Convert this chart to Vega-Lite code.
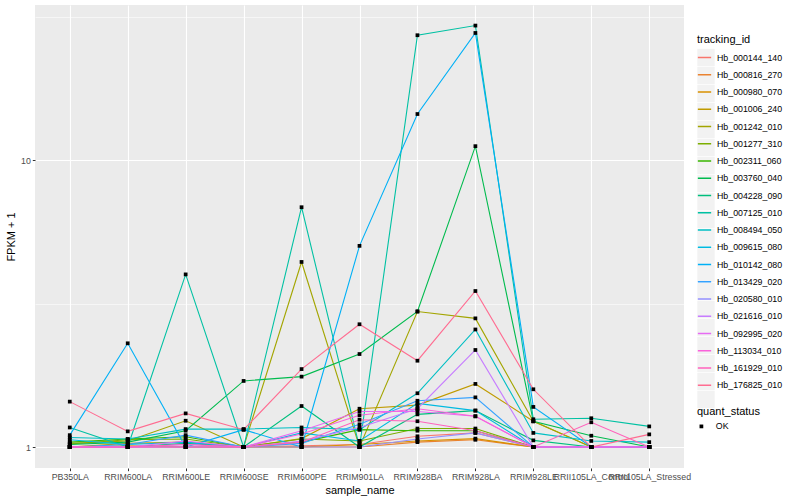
{
  "$schema": "https://vega.github.io/schema/vega-lite/v6.json",
  "autosize": {"type": "none"},
  "padding": {"left": 35, "top": 5, "right": 116, "bottom": 32},
  "width": 649,
  "height": 463,
  "background": "white",
  "config": {
    "view": {"fill": "#EBEBEB", "stroke": null},
    "font": "Liberation Sans",
    "axis": {
      "domain": false,
      "gridColor": "white",
      "tickColor": "#333333",
      "tickSize": 2.7,
      "labelColor": "#4D4D4D",
      "labelFont": "Liberation Sans",
      "labelFontSize": 8.8,
      "titleFont": "Liberation Sans",
      "titleFontSize": 11,
      "titleFontWeight": "normal",
      "titleColor": "black"
    },
    "legend": {
      "titleFont": "Liberation Sans",
      "titleFontSize": 11,
      "titleFontWeight": "normal",
      "titleColor": "black",
      "labelFont": "Liberation Sans",
      "labelFontSize": 8.8,
      "labelColor": "black",
      "padding": 0
    }
  },
  "data": {"values": [
    {"tracking_id":"Hb_000144_140","sample_name":"PB350LA","fpkm":1.0,"quant_status":"OK"},
    {"tracking_id":"Hb_000144_140","sample_name":"RRIM600LA","fpkm":1.0,"quant_status":"OK"},
    {"tracking_id":"Hb_000144_140","sample_name":"RRIM600LE","fpkm":1.0,"quant_status":"OK"},
    {"tracking_id":"Hb_000144_140","sample_name":"RRIM600SE","fpkm":1.0,"quant_status":"OK"},
    {"tracking_id":"Hb_000144_140","sample_name":"RRIM600PE","fpkm":1.01,"quant_status":"OK"},
    {"tracking_id":"Hb_000144_140","sample_name":"RRIM901LA","fpkm":1.02,"quant_status":"OK"},
    {"tracking_id":"Hb_000144_140","sample_name":"RRIM928BA","fpkm":1.09,"quant_status":"OK"},
    {"tracking_id":"Hb_000144_140","sample_name":"RRIM928LA","fpkm":1.12,"quant_status":"OK"},
    {"tracking_id":"Hb_000144_140","sample_name":"RRIM928LE","fpkm":1.0,"quant_status":"OK"},
    {"tracking_id":"Hb_000144_140","sample_name":"RRII105LA_Control","fpkm":1.0,"quant_status":"OK"},
    {"tracking_id":"Hb_000144_140","sample_name":"RRII105LA_Stressed","fpkm":1.0,"quant_status":"OK"},
    {"tracking_id":"Hb_000816_270","sample_name":"PB350LA","fpkm":1.0,"quant_status":"OK"},
    {"tracking_id":"Hb_000816_270","sample_name":"RRIM600LA","fpkm":1.0,"quant_status":"OK"},
    {"tracking_id":"Hb_000816_270","sample_name":"RRIM600LE","fpkm":1.0,"quant_status":"OK"},
    {"tracking_id":"Hb_000816_270","sample_name":"RRIM600SE","fpkm":1.0,"quant_status":"OK"},
    {"tracking_id":"Hb_000816_270","sample_name":"RRIM600PE","fpkm":1.0,"quant_status":"OK"},
    {"tracking_id":"Hb_000816_270","sample_name":"RRIM901LA","fpkm":1.0,"quant_status":"OK"},
    {"tracking_id":"Hb_000816_270","sample_name":"RRIM928BA","fpkm":1.04,"quant_status":"OK"},
    {"tracking_id":"Hb_000816_270","sample_name":"RRIM928LA","fpkm":1.06,"quant_status":"OK"},
    {"tracking_id":"Hb_000816_270","sample_name":"RRIM928LE","fpkm":1.0,"quant_status":"OK"},
    {"tracking_id":"Hb_000816_270","sample_name":"RRII105LA_Control","fpkm":1.0,"quant_status":"OK"},
    {"tracking_id":"Hb_000816_270","sample_name":"RRII105LA_Stressed","fpkm":1.0,"quant_status":"OK"},
    {"tracking_id":"Hb_000980_070","sample_name":"PB350LA","fpkm":1.0,"quant_status":"OK"},
    {"tracking_id":"Hb_000980_070","sample_name":"RRIM600LA","fpkm":1.01,"quant_status":"OK"},
    {"tracking_id":"Hb_000980_070","sample_name":"RRIM600LE","fpkm":1.0,"quant_status":"OK"},
    {"tracking_id":"Hb_000980_070","sample_name":"RRIM600SE","fpkm":1.0,"quant_status":"OK"},
    {"tracking_id":"Hb_000980_070","sample_name":"RRIM600PE","fpkm":1.0,"quant_status":"OK"},
    {"tracking_id":"Hb_000980_070","sample_name":"RRIM901LA","fpkm":1.02,"quant_status":"OK"},
    {"tracking_id":"Hb_000980_070","sample_name":"RRIM928BA","fpkm":1.05,"quant_status":"OK"},
    {"tracking_id":"Hb_000980_070","sample_name":"RRIM928LA","fpkm":1.07,"quant_status":"OK"},
    {"tracking_id":"Hb_000980_070","sample_name":"RRIM928LE","fpkm":1.0,"quant_status":"OK"},
    {"tracking_id":"Hb_000980_070","sample_name":"RRII105LA_Control","fpkm":1.0,"quant_status":"OK"},
    {"tracking_id":"Hb_000980_070","sample_name":"RRII105LA_Stressed","fpkm":1.0,"quant_status":"OK"},
    {"tracking_id":"Hb_001006_240","sample_name":"PB350LA","fpkm":1.0,"quant_status":"OK"},
    {"tracking_id":"Hb_001006_240","sample_name":"RRIM600LA","fpkm":1.03,"quant_status":"OK"},
    {"tracking_id":"Hb_001006_240","sample_name":"RRIM600LE","fpkm":1.04,"quant_status":"OK"},
    {"tracking_id":"Hb_001006_240","sample_name":"RRIM600SE","fpkm":1.0,"quant_status":"OK"},
    {"tracking_id":"Hb_001006_240","sample_name":"RRIM600PE","fpkm":1.07,"quant_status":"OK"},
    {"tracking_id":"Hb_001006_240","sample_name":"RRIM901LA","fpkm":1.36,"quant_status":"OK"},
    {"tracking_id":"Hb_001006_240","sample_name":"RRIM928BA","fpkm":1.4,"quant_status":"OK"},
    {"tracking_id":"Hb_001006_240","sample_name":"RRIM928LA","fpkm":1.66,"quant_status":"OK"},
    {"tracking_id":"Hb_001006_240","sample_name":"RRIM928LE","fpkm":1.23,"quant_status":"OK"},
    {"tracking_id":"Hb_001006_240","sample_name":"RRII105LA_Control","fpkm":1.0,"quant_status":"OK"},
    {"tracking_id":"Hb_001006_240","sample_name":"RRII105LA_Stressed","fpkm":1.0,"quant_status":"OK"},
    {"tracking_id":"Hb_001242_010","sample_name":"PB350LA","fpkm":1.03,"quant_status":"OK"},
    {"tracking_id":"Hb_001242_010","sample_name":"RRIM600LA","fpkm":1.05,"quant_status":"OK"},
    {"tracking_id":"Hb_001242_010","sample_name":"RRIM600LE","fpkm":1.235,"quant_status":"OK"},
    {"tracking_id":"Hb_001242_010","sample_name":"RRIM600SE","fpkm":1.0,"quant_status":"OK"},
    {"tracking_id":"Hb_001242_010","sample_name":"RRIM600PE","fpkm":4.42,"quant_status":"OK"},
    {"tracking_id":"Hb_001242_010","sample_name":"RRIM901LA","fpkm":1.0,"quant_status":"OK"},
    {"tracking_id":"Hb_001242_010","sample_name":"RRIM928BA","fpkm":2.97,"quant_status":"OK"},
    {"tracking_id":"Hb_001242_010","sample_name":"RRIM928LA","fpkm":2.81,"quant_status":"OK"},
    {"tracking_id":"Hb_001242_010","sample_name":"RRIM928LE","fpkm":1.23,"quant_status":"OK"},
    {"tracking_id":"Hb_001242_010","sample_name":"RRII105LA_Control","fpkm":1.0,"quant_status":"OK"},
    {"tracking_id":"Hb_001242_010","sample_name":"RRII105LA_Stressed","fpkm":1.0,"quant_status":"OK"},
    {"tracking_id":"Hb_001277_310","sample_name":"PB350LA","fpkm":1.025,"quant_status":"OK"},
    {"tracking_id":"Hb_001277_310","sample_name":"RRIM600LA","fpkm":1.06,"quant_status":"OK"},
    {"tracking_id":"Hb_001277_310","sample_name":"RRIM600LE","fpkm":1.066,"quant_status":"OK"},
    {"tracking_id":"Hb_001277_310","sample_name":"RRIM600SE","fpkm":1.0,"quant_status":"OK"},
    {"tracking_id":"Hb_001277_310","sample_name":"RRIM600PE","fpkm":1.066,"quant_status":"OK"},
    {"tracking_id":"Hb_001277_310","sample_name":"RRIM901LA","fpkm":1.05,"quant_status":"OK"},
    {"tracking_id":"Hb_001277_310","sample_name":"RRIM928BA","fpkm":1.16,"quant_status":"OK"},
    {"tracking_id":"Hb_001277_310","sample_name":"RRIM928LA","fpkm":1.16,"quant_status":"OK"},
    {"tracking_id":"Hb_001277_310","sample_name":"RRIM928LE","fpkm":1.0,"quant_status":"OK"},
    {"tracking_id":"Hb_001277_310","sample_name":"RRII105LA_Control","fpkm":1.0,"quant_status":"OK"},
    {"tracking_id":"Hb_001277_310","sample_name":"RRII105LA_Stressed","fpkm":1.0,"quant_status":"OK"},
    {"tracking_id":"Hb_002311_060","sample_name":"PB350LA","fpkm":1.04,"quant_status":"OK"},
    {"tracking_id":"Hb_002311_060","sample_name":"RRIM600LA","fpkm":1.066,"quant_status":"OK"},
    {"tracking_id":"Hb_002311_060","sample_name":"RRIM600LE","fpkm":1.086,"quant_status":"OK"},
    {"tracking_id":"Hb_002311_060","sample_name":"RRIM600SE","fpkm":1.0,"quant_status":"OK"},
    {"tracking_id":"Hb_002311_060","sample_name":"RRIM600PE","fpkm":1.04,"quant_status":"OK"},
    {"tracking_id":"Hb_002311_060","sample_name":"RRIM901LA","fpkm":1.15,"quant_status":"OK"},
    {"tracking_id":"Hb_002311_060","sample_name":"RRIM928BA","fpkm":1.14,"quant_status":"OK"},
    {"tracking_id":"Hb_002311_060","sample_name":"RRIM928LA","fpkm":1.14,"quant_status":"OK"},
    {"tracking_id":"Hb_002311_060","sample_name":"RRIM928LE","fpkm":1.0,"quant_status":"OK"},
    {"tracking_id":"Hb_002311_060","sample_name":"RRII105LA_Control","fpkm":1.0,"quant_status":"OK"},
    {"tracking_id":"Hb_002311_060","sample_name":"RRII105LA_Stressed","fpkm":1.0,"quant_status":"OK"},
    {"tracking_id":"Hb_003760_040","sample_name":"PB350LA","fpkm":1.02,"quant_status":"OK"},
    {"tracking_id":"Hb_003760_040","sample_name":"RRIM600LA","fpkm":1.04,"quant_status":"OK"},
    {"tracking_id":"Hb_003760_040","sample_name":"RRIM600LE","fpkm":1.14,"quant_status":"OK"},
    {"tracking_id":"Hb_003760_040","sample_name":"RRIM600SE","fpkm":1.7,"quant_status":"OK"},
    {"tracking_id":"Hb_003760_040","sample_name":"RRIM600PE","fpkm":1.76,"quant_status":"OK"},
    {"tracking_id":"Hb_003760_040","sample_name":"RRIM901LA","fpkm":2.11,"quant_status":"OK"},
    {"tracking_id":"Hb_003760_040","sample_name":"RRIM928BA","fpkm":2.97,"quant_status":"OK"},
    {"tracking_id":"Hb_003760_040","sample_name":"RRIM928LA","fpkm":11.2,"quant_status":"OK"},
    {"tracking_id":"Hb_003760_040","sample_name":"RRIM928LE","fpkm":1.23,"quant_status":"OK"},
    {"tracking_id":"Hb_003760_040","sample_name":"RRII105LA_Control","fpkm":1.095,"quant_status":"OK"},
    {"tracking_id":"Hb_003760_040","sample_name":"RRII105LA_Stressed","fpkm":1.0,"quant_status":"OK"},
    {"tracking_id":"Hb_004228_090","sample_name":"PB350LA","fpkm":1.0,"quant_status":"OK"},
    {"tracking_id":"Hb_004228_090","sample_name":"RRIM600LA","fpkm":1.0,"quant_status":"OK"},
    {"tracking_id":"Hb_004228_090","sample_name":"RRIM600LE","fpkm":1.03,"quant_status":"OK"},
    {"tracking_id":"Hb_004228_090","sample_name":"RRIM600SE","fpkm":1.0,"quant_status":"OK"},
    {"tracking_id":"Hb_004228_090","sample_name":"RRIM600PE","fpkm":1.39,"quant_status":"OK"},
    {"tracking_id":"Hb_004228_090","sample_name":"RRIM901LA","fpkm":1.0,"quant_status":"OK"},
    {"tracking_id":"Hb_004228_090","sample_name":"RRIM928BA","fpkm":1.3,"quant_status":"OK"},
    {"tracking_id":"Hb_004228_090","sample_name":"RRIM928LA","fpkm":1.34,"quant_status":"OK"},
    {"tracking_id":"Hb_004228_090","sample_name":"RRIM928LE","fpkm":1.055,"quant_status":"OK"},
    {"tracking_id":"Hb_004228_090","sample_name":"RRII105LA_Control","fpkm":1.0,"quant_status":"OK"},
    {"tracking_id":"Hb_004228_090","sample_name":"RRII105LA_Stressed","fpkm":1.0,"quant_status":"OK"},
    {"tracking_id":"Hb_007125_010","sample_name":"PB350LA","fpkm":1.17,"quant_status":"OK"},
    {"tracking_id":"Hb_007125_010","sample_name":"RRIM600LA","fpkm":1.0,"quant_status":"OK"},
    {"tracking_id":"Hb_007125_010","sample_name":"RRIM600LE","fpkm":4.0,"quant_status":"OK"},
    {"tracking_id":"Hb_007125_010","sample_name":"RRIM600SE","fpkm":1.0,"quant_status":"OK"},
    {"tracking_id":"Hb_007125_010","sample_name":"RRIM600PE","fpkm":6.86,"quant_status":"OK"},
    {"tracking_id":"Hb_007125_010","sample_name":"RRIM901LA","fpkm":1.0,"quant_status":"OK"},
    {"tracking_id":"Hb_007125_010","sample_name":"RRIM928BA","fpkm":27.3,"quant_status":"OK"},
    {"tracking_id":"Hb_007125_010","sample_name":"RRIM928LA","fpkm":29.5,"quant_status":"OK"},
    {"tracking_id":"Hb_007125_010","sample_name":"RRIM928LE","fpkm":1.25,"quant_status":"OK"},
    {"tracking_id":"Hb_007125_010","sample_name":"RRII105LA_Control","fpkm":1.26,"quant_status":"OK"},
    {"tracking_id":"Hb_007125_010","sample_name":"RRII105LA_Stressed","fpkm":1.18,"quant_status":"OK"},
    {"tracking_id":"Hb_008494_050","sample_name":"PB350LA","fpkm":1.08,"quant_status":"OK"},
    {"tracking_id":"Hb_008494_050","sample_name":"RRIM600LA","fpkm":1.066,"quant_status":"OK"},
    {"tracking_id":"Hb_008494_050","sample_name":"RRIM600LE","fpkm":1.155,"quant_status":"OK"},
    {"tracking_id":"Hb_008494_050","sample_name":"RRIM600SE","fpkm":1.155,"quant_status":"OK"},
    {"tracking_id":"Hb_008494_050","sample_name":"RRIM600PE","fpkm":1.17,"quant_status":"OK"},
    {"tracking_id":"Hb_008494_050","sample_name":"RRIM901LA","fpkm":1.15,"quant_status":"OK"},
    {"tracking_id":"Hb_008494_050","sample_name":"RRIM928BA","fpkm":1.54,"quant_status":"OK"},
    {"tracking_id":"Hb_008494_050","sample_name":"RRIM928LA","fpkm":2.57,"quant_status":"OK"},
    {"tracking_id":"Hb_008494_050","sample_name":"RRIM928LE","fpkm":1.12,"quant_status":"OK"},
    {"tracking_id":"Hb_008494_050","sample_name":"RRII105LA_Control","fpkm":1.05,"quant_status":"OK"},
    {"tracking_id":"Hb_008494_050","sample_name":"RRII105LA_Stressed","fpkm":1.04,"quant_status":"OK"},
    {"tracking_id":"Hb_009615_080","sample_name":"PB350LA","fpkm":1.06,"quant_status":"OK"},
    {"tracking_id":"Hb_009615_080","sample_name":"RRIM600LA","fpkm":1.02,"quant_status":"OK"},
    {"tracking_id":"Hb_009615_080","sample_name":"RRIM600LE","fpkm":1.04,"quant_status":"OK"},
    {"tracking_id":"Hb_009615_080","sample_name":"RRIM600SE","fpkm":1.0,"quant_status":"OK"},
    {"tracking_id":"Hb_009615_080","sample_name":"RRIM600PE","fpkm":1.12,"quant_status":"OK"},
    {"tracking_id":"Hb_009615_080","sample_name":"RRIM901LA","fpkm":1.05,"quant_status":"OK"},
    {"tracking_id":"Hb_009615_080","sample_name":"RRIM928BA","fpkm":1.42,"quant_status":"OK"},
    {"tracking_id":"Hb_009615_080","sample_name":"RRIM928LA","fpkm":1.34,"quant_status":"OK"},
    {"tracking_id":"Hb_009615_080","sample_name":"RRIM928LE","fpkm":1.0,"quant_status":"OK"},
    {"tracking_id":"Hb_009615_080","sample_name":"RRII105LA_Control","fpkm":1.0,"quant_status":"OK"},
    {"tracking_id":"Hb_009615_080","sample_name":"RRII105LA_Stressed","fpkm":1.0,"quant_status":"OK"},
    {"tracking_id":"Hb_010142_080","sample_name":"PB350LA","fpkm":1.1,"quant_status":"OK"},
    {"tracking_id":"Hb_010142_080","sample_name":"RRIM600LA","fpkm":2.3,"quant_status":"OK"},
    {"tracking_id":"Hb_010142_080","sample_name":"RRIM600LE","fpkm":1.0,"quant_status":"OK"},
    {"tracking_id":"Hb_010142_080","sample_name":"RRIM600SE","fpkm":1.15,"quant_status":"OK"},
    {"tracking_id":"Hb_010142_080","sample_name":"RRIM600PE","fpkm":1.0,"quant_status":"OK"},
    {"tracking_id":"Hb_010142_080","sample_name":"RRIM901LA","fpkm":5.03,"quant_status":"OK"},
    {"tracking_id":"Hb_010142_080","sample_name":"RRIM928BA","fpkm":14.5,"quant_status":"OK"},
    {"tracking_id":"Hb_010142_080","sample_name":"RRIM928LA","fpkm":27.8,"quant_status":"OK"},
    {"tracking_id":"Hb_010142_080","sample_name":"RRIM928LE","fpkm":1.38,"quant_status":"OK"},
    {"tracking_id":"Hb_010142_080","sample_name":"RRII105LA_Control","fpkm":1.0,"quant_status":"OK"},
    {"tracking_id":"Hb_010142_080","sample_name":"RRII105LA_Stressed","fpkm":1.0,"quant_status":"OK"},
    {"tracking_id":"Hb_013429_020","sample_name":"PB350LA","fpkm":1.0,"quant_status":"OK"},
    {"tracking_id":"Hb_013429_020","sample_name":"RRIM600LA","fpkm":1.02,"quant_status":"OK"},
    {"tracking_id":"Hb_013429_020","sample_name":"RRIM600LE","fpkm":1.1,"quant_status":"OK"},
    {"tracking_id":"Hb_013429_020","sample_name":"RRIM600SE","fpkm":1.0,"quant_status":"OK"},
    {"tracking_id":"Hb_013429_020","sample_name":"RRIM600PE","fpkm":1.03,"quant_status":"OK"},
    {"tracking_id":"Hb_013429_020","sample_name":"RRIM901LA","fpkm":1.2,"quant_status":"OK"},
    {"tracking_id":"Hb_013429_020","sample_name":"RRIM928BA","fpkm":1.45,"quant_status":"OK"},
    {"tracking_id":"Hb_013429_020","sample_name":"RRIM928LA","fpkm":1.49,"quant_status":"OK"},
    {"tracking_id":"Hb_013429_020","sample_name":"RRIM928LE","fpkm":1.0,"quant_status":"OK"},
    {"tracking_id":"Hb_013429_020","sample_name":"RRII105LA_Control","fpkm":1.0,"quant_status":"OK"},
    {"tracking_id":"Hb_013429_020","sample_name":"RRII105LA_Stressed","fpkm":1.0,"quant_status":"OK"},
    {"tracking_id":"Hb_020580_010","sample_name":"PB350LA","fpkm":1.0,"quant_status":"OK"},
    {"tracking_id":"Hb_020580_010","sample_name":"RRIM600LA","fpkm":1.0,"quant_status":"OK"},
    {"tracking_id":"Hb_020580_010","sample_name":"RRIM600LE","fpkm":1.0,"quant_status":"OK"},
    {"tracking_id":"Hb_020580_010","sample_name":"RRIM600SE","fpkm":1.0,"quant_status":"OK"},
    {"tracking_id":"Hb_020580_010","sample_name":"RRIM600PE","fpkm":1.0,"quant_status":"OK"},
    {"tracking_id":"Hb_020580_010","sample_name":"RRIM901LA","fpkm":1.0,"quant_status":"OK"},
    {"tracking_id":"Hb_020580_010","sample_name":"RRIM928BA","fpkm":1.066,"quant_status":"OK"},
    {"tracking_id":"Hb_020580_010","sample_name":"RRIM928LA","fpkm":1.12,"quant_status":"OK"},
    {"tracking_id":"Hb_020580_010","sample_name":"RRIM928LE","fpkm":1.0,"quant_status":"OK"},
    {"tracking_id":"Hb_020580_010","sample_name":"RRII105LA_Control","fpkm":1.0,"quant_status":"OK"},
    {"tracking_id":"Hb_020580_010","sample_name":"RRII105LA_Stressed","fpkm":1.0,"quant_status":"OK"},
    {"tracking_id":"Hb_021616_010","sample_name":"PB350LA","fpkm":1.0,"quant_status":"OK"},
    {"tracking_id":"Hb_021616_010","sample_name":"RRIM600LA","fpkm":1.0,"quant_status":"OK"},
    {"tracking_id":"Hb_021616_010","sample_name":"RRIM600LE","fpkm":1.02,"quant_status":"OK"},
    {"tracking_id":"Hb_021616_010","sample_name":"RRIM600SE","fpkm":1.0,"quant_status":"OK"},
    {"tracking_id":"Hb_021616_010","sample_name":"RRIM600PE","fpkm":1.05,"quant_status":"OK"},
    {"tracking_id":"Hb_021616_010","sample_name":"RRIM901LA","fpkm":1.17,"quant_status":"OK"},
    {"tracking_id":"Hb_021616_010","sample_name":"RRIM928BA","fpkm":1.36,"quant_status":"OK"},
    {"tracking_id":"Hb_021616_010","sample_name":"RRIM928LA","fpkm":2.18,"quant_status":"OK"},
    {"tracking_id":"Hb_021616_010","sample_name":"RRIM928LE","fpkm":1.0,"quant_status":"OK"},
    {"tracking_id":"Hb_021616_010","sample_name":"RRII105LA_Control","fpkm":1.0,"quant_status":"OK"},
    {"tracking_id":"Hb_021616_010","sample_name":"RRII105LA_Stressed","fpkm":1.0,"quant_status":"OK"},
    {"tracking_id":"Hb_092995_020","sample_name":"PB350LA","fpkm":1.0,"quant_status":"OK"},
    {"tracking_id":"Hb_092995_020","sample_name":"RRIM600LA","fpkm":1.0,"quant_status":"OK"},
    {"tracking_id":"Hb_092995_020","sample_name":"RRIM600LE","fpkm":1.05,"quant_status":"OK"},
    {"tracking_id":"Hb_092995_020","sample_name":"RRIM600SE","fpkm":1.0,"quant_status":"OK"},
    {"tracking_id":"Hb_092995_020","sample_name":"RRIM600PE","fpkm":1.14,"quant_status":"OK"},
    {"tracking_id":"Hb_092995_020","sample_name":"RRIM901LA","fpkm":1.33,"quant_status":"OK"},
    {"tracking_id":"Hb_092995_020","sample_name":"RRIM928BA","fpkm":1.33,"quant_status":"OK"},
    {"tracking_id":"Hb_092995_020","sample_name":"RRIM928LA","fpkm":1.28,"quant_status":"OK"},
    {"tracking_id":"Hb_092995_020","sample_name":"RRIM928LE","fpkm":1.0,"quant_status":"OK"},
    {"tracking_id":"Hb_092995_020","sample_name":"RRII105LA_Control","fpkm":1.0,"quant_status":"OK"},
    {"tracking_id":"Hb_092995_020","sample_name":"RRII105LA_Stressed","fpkm":1.0,"quant_status":"OK"},
    {"tracking_id":"Hb_113034_010","sample_name":"PB350LA","fpkm":1.0,"quant_status":"OK"},
    {"tracking_id":"Hb_113034_010","sample_name":"RRIM600LA","fpkm":1.0,"quant_status":"OK"},
    {"tracking_id":"Hb_113034_010","sample_name":"RRIM600LE","fpkm":1.0,"quant_status":"OK"},
    {"tracking_id":"Hb_113034_010","sample_name":"RRIM600SE","fpkm":1.0,"quant_status":"OK"},
    {"tracking_id":"Hb_113034_010","sample_name":"RRIM600PE","fpkm":1.11,"quant_status":"OK"},
    {"tracking_id":"Hb_113034_010","sample_name":"RRIM901LA","fpkm":1.29,"quant_status":"OK"},
    {"tracking_id":"Hb_113034_010","sample_name":"RRIM928BA","fpkm":1.36,"quant_status":"OK"},
    {"tracking_id":"Hb_113034_010","sample_name":"RRIM928LA","fpkm":1.28,"quant_status":"OK"},
    {"tracking_id":"Hb_113034_010","sample_name":"RRIM928LE","fpkm":1.0,"quant_status":"OK"},
    {"tracking_id":"Hb_113034_010","sample_name":"RRII105LA_Control","fpkm":1.0,"quant_status":"OK"},
    {"tracking_id":"Hb_113034_010","sample_name":"RRII105LA_Stressed","fpkm":1.0,"quant_status":"OK"},
    {"tracking_id":"Hb_161929_010","sample_name":"PB350LA","fpkm":1.0,"quant_status":"OK"},
    {"tracking_id":"Hb_161929_010","sample_name":"RRIM600LA","fpkm":1.0,"quant_status":"OK"},
    {"tracking_id":"Hb_161929_010","sample_name":"RRIM600LE","fpkm":1.02,"quant_status":"OK"},
    {"tracking_id":"Hb_161929_010","sample_name":"RRIM600SE","fpkm":1.0,"quant_status":"OK"},
    {"tracking_id":"Hb_161929_010","sample_name":"RRIM600PE","fpkm":1.04,"quant_status":"OK"},
    {"tracking_id":"Hb_161929_010","sample_name":"RRIM901LA","fpkm":1.245,"quant_status":"OK"},
    {"tracking_id":"Hb_161929_010","sample_name":"RRIM928BA","fpkm":1.23,"quant_status":"OK"},
    {"tracking_id":"Hb_161929_010","sample_name":"RRIM928LA","fpkm":1.14,"quant_status":"OK"},
    {"tracking_id":"Hb_161929_010","sample_name":"RRIM928LE","fpkm":1.0,"quant_status":"OK"},
    {"tracking_id":"Hb_161929_010","sample_name":"RRII105LA_Control","fpkm":1.22,"quant_status":"OK"},
    {"tracking_id":"Hb_161929_010","sample_name":"RRII105LA_Stressed","fpkm":1.0,"quant_status":"OK"},
    {"tracking_id":"Hb_176825_010","sample_name":"PB350LA","fpkm":1.44,"quant_status":"OK"},
    {"tracking_id":"Hb_176825_010","sample_name":"RRIM600LA","fpkm":1.134,"quant_status":"OK"},
    {"tracking_id":"Hb_176825_010","sample_name":"RRIM600LE","fpkm":1.31,"quant_status":"OK"},
    {"tracking_id":"Hb_176825_010","sample_name":"RRIM600SE","fpkm":1.149,"quant_status":"OK"},
    {"tracking_id":"Hb_176825_010","sample_name":"RRIM600PE","fpkm":1.87,"quant_status":"OK"},
    {"tracking_id":"Hb_176825_010","sample_name":"RRIM901LA","fpkm":2.68,"quant_status":"OK"},
    {"tracking_id":"Hb_176825_010","sample_name":"RRIM928BA","fpkm":2.0,"quant_status":"OK"},
    {"tracking_id":"Hb_176825_010","sample_name":"RRIM928LA","fpkm":3.5,"quant_status":"OK"},
    {"tracking_id":"Hb_176825_010","sample_name":"RRIM928LE","fpkm":1.59,"quant_status":"OK"},
    {"tracking_id":"Hb_176825_010","sample_name":"RRII105LA_Control","fpkm":1.0,"quant_status":"OK"},
    {"tracking_id":"Hb_176825_010","sample_name":"RRII105LA_Stressed","fpkm":1.107,"quant_status":"OK"}
  ]},
  "encoding": {
    "x": {
      "field": "sample_name",
      "type": "nominal",
      "sort": ["PB350LA","RRIM600LA","RRIM600LE","RRIM600SE","RRIM600PE","RRIM901LA","RRIM928BA","RRIM928LA","RRIM928LE","RRII105LA_Control","RRII105LA_Stressed"],
      "scale": {"type": "point", "padding": 0.6},
      "axis": {
        "title": "sample_name",
        "grid": true,
        "gridWidth": 1.1,
        "labelAngle": 0,
        "labelOverlap": false,
        "labelLimit": 300,
        "labelBound": false,
        "labelPadding": 2,
        "titlePadding": 3
      }
    },
    "y": {
      "field": "fpkm",
      "type": "quantitative",
      "scale": {"type": "log", "domain": [0.845, 34.8], "nice": false, "zero": false},
      "axis": {
        "title": "FPKM + 1",
        "values": [1, 3.1623, 10, 31.623],
        "labelExpr": "datum.value == 1 ? '1' : (datum.value == 10 ? '10' : '')",
        "gridWidth": {"condition": {"test": "datum.value == 1 || datum.value == 10", "value": 1.1}, "value": 0.55},
        "tickOpacity": {"condition": {"test": "datum.value == 1 || datum.value == 10", "value": 1}, "value": 0},
        "labelPadding": 2,
        "titlePadding": 4
      }
    }
  },
  "layer": [
    {
      "mark": {"type": "square", "size": 0},
      "encoding": {
        "fill": {
          "field": "tracking_id",
          "type": "nominal",
          "scale": {"range": ["#F2F2F2"]},
          "legend": {
            "title": null,
            "orient": "none",
            "legendX": 662,
            "legendY": 43.5,
            "zindex": 0,
            "symbolType": "square",
            "symbolSize": 299,
            "symbolStrokeWidth": 0,
            "symbolStrokeColor": "#F2F2F2",
            "symbolOpacity": 1,
            "rowPadding": 0,
            "labelExpr": "''",
            "labelOffset": 0
          }
        }
      }
    },
    {
      "mark": {"type": "line", "strokeWidth": 1.1},
      "encoding": {
        "color": {
          "field": "tracking_id",
          "type": "nominal",
          "scale": {
            "domain": ["Hb_000144_140","Hb_000816_270","Hb_000980_070","Hb_001006_240","Hb_001242_010","Hb_001277_310","Hb_002311_060","Hb_003760_040","Hb_004228_090","Hb_007125_010","Hb_008494_050","Hb_009615_080","Hb_010142_080","Hb_013429_020","Hb_020580_010","Hb_021616_010","Hb_092995_020","Hb_113034_010","Hb_161929_010","Hb_176825_010"],
            "range": ["#F8766D","#EA8331","#D89000","#C09B00","#A3A500","#7CAE00","#39B600","#00BB4E","#00BF7D","#00C1A3","#00BFC4","#00BAE0","#00B0F6","#35A2FF","#9590FF","#C77CFF","#E76BF3","#FA62DB","#FF62BC","#FF6C91"]
          },
          "legend": {
            "title": "tracking_id",
            "orient": "none",
            "legendX": 662,
            "legendY": 29,
            "zindex": 1,
            "symbolType": "stroke",
            "symbolSize": 177,
            "symbolStrokeWidth": 1.5,
            "rowPadding": 4.25,
            "titlePadding": 5,
            "labelOffset": 5
          }
        }
      }
    },
    {
      "mark": {"type": "point", "filled": true, "color": "black", "opacity": 1, "size": 14},
      "encoding": {
        "shape": {
          "field": "quant_status",
          "type": "nominal",
          "scale": {"domain": ["OK"], "range": ["square"]},
          "legend": {
            "title": "quant_status",
            "orient": "none",
            "legendX": 662,
            "legendY": 401,
            "symbolFillColor": "black",
            "symbolStrokeColor": "black",
            "symbolSize": 14,
            "titlePadding": 5,
            "labelOffset": 10
          }
        }
      }
    }
  ]
}
